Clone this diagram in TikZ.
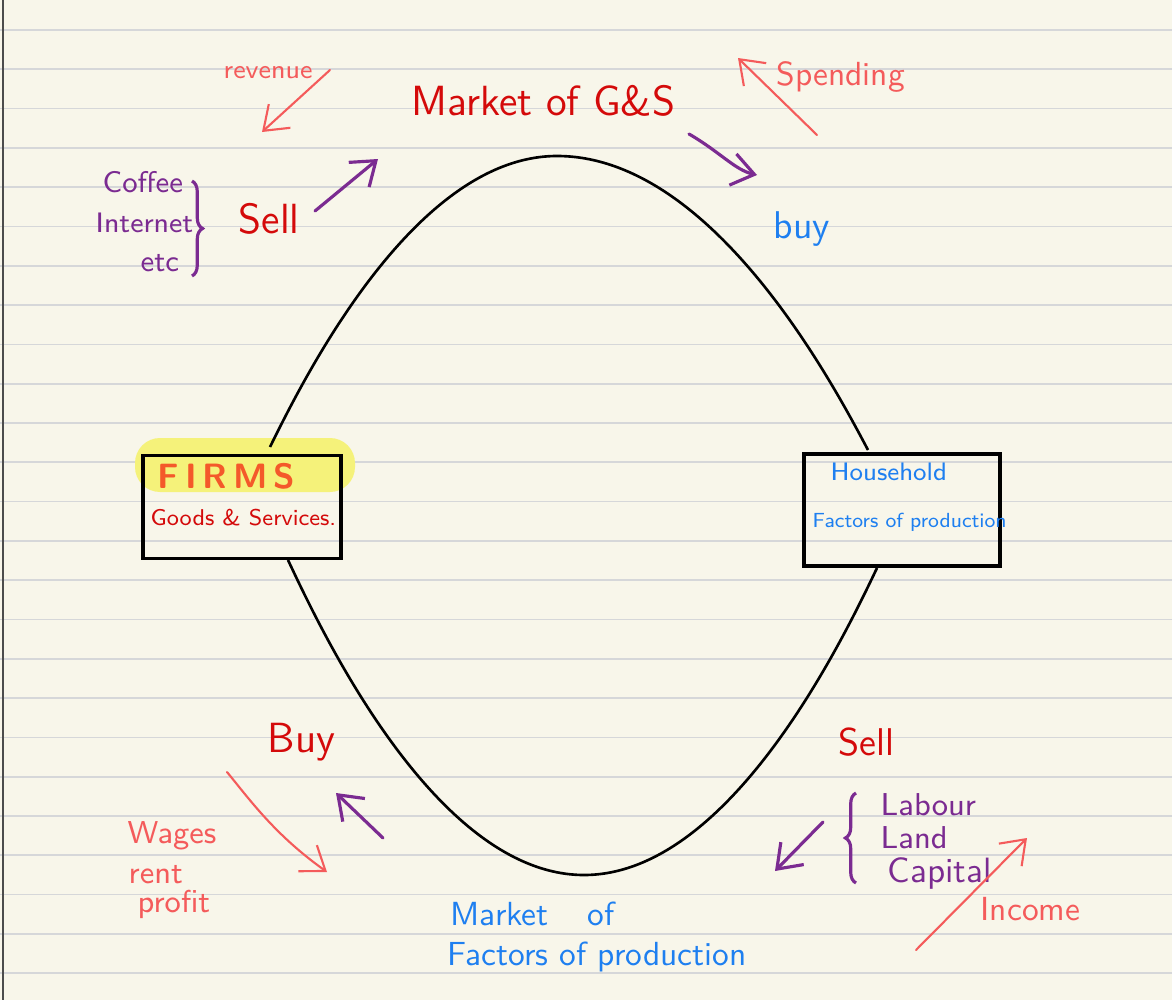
\documentclass[tikz,border=0pt]{standalone}
\usetikzlibrary{arrows.meta,decorations.pathreplacing}

\definecolor{paper}{HTML}{F8F6EA}
\definecolor{ruleline}{HTML}{D6D7D9}
\definecolor{inkred}{HTML}{D40A0A}
\definecolor{salmon}{HTML}{F45B5B}
\definecolor{inkpurple}{HTML}{7B2B91}
\definecolor{inkblue}{HTML}{1E7FF0}
\definecolor{firmsorange}{HTML}{F4592A}
\definecolor{hilite}{HTML}{F5F27A}

\tikzset{
  txt/.style={inner sep=0pt, anchor=base west, font=\sffamily\fontsize{#1}{#1}\selectfont},
  box/.style={draw=black, line width=0.9pt, inner sep=0pt},
  arr/.style={-{Straight Barb[length=2.2mm,width=3.2mm]}, line cap=round},
  redpen/.style={salmon, line width=0.6pt},
  purplepen/.style={inkpurple, line width=0.9pt},
  curve/.style={black, line width=0.75pt}
}

\begin{document}
\begin{tikzpicture}[x=0.01cm, y=-0.01cm]
    % 纸
    \useasboundingbox (0,0) rectangle (1172,1000);
    \fill[paper] (0,0) rectangle (1172,1000);
    \foreach \k in {0,...,24}
        \draw[ruleline, line width=0.5pt] (0,{30+39.3*\k}) -- (1172,{30+39.3*\k});
    \draw[black!70, line width=0.5pt] (3,0) -- (3,1000);

    % 荧光笔
    \fill[hilite, rounded corners=2.5mm] (135,438) rectangle (355,492);

    % 两个方框
    \node[box, minimum width=1.98cm, minimum height=1.03cm] (firms) at (242,507) {};
    \node[box, minimum width=1.96cm, minimum height=1.12cm] (household) at (902,510) {};

    % 环线
    \coordinate (firmsTop) at (270,447);
    \coordinate (gsTop) at (557,156);
    \coordinate (houseTop) at (868,450);
    \coordinate (firmsBot) at (288,560);
    \coordinate (fpBot) at (584,875);
    \coordinate (houseBot) at (877,568);
    \draw[curve] (firmsTop) parabola bend (gsTop) (houseTop);
    \draw[curve] (firmsBot) parabola bend (fpBot) (houseBot);

    % 方框里的字
    \node[txt=10, firmsorange, font=\sffamily\bfseries\fontsize{10}{10}\selectfont] (firmsName) at (157,488) {F\,I\,R\,M\,S};
    \node[txt=6.5, inkred] (firmsGoods) at (150,525) {Goods \& Services.};
    \node[txt=7.2, inkblue] (houseName) at (830,480) {Household};
    \node[txt=5.8, inkblue] (houseFactors) at (812,527) {Factors of production};

    % 上方：商品市场
    \node[txt=12, inkred] (mktGS) at (411,116) {Market of G\&S};
    \node[txt=7.5, salmon] (revenue) at (223,78) {revenue};
    \node[txt=9.5, salmon] (spending) at (776,85) {Spending};
    \node[txt=12, inkred] (sellTop) at (238,233) {Sell};
    \node[txt=11, inkblue] (buyTop) at (773,238) {buy};
    \node[txt=8.5, inkpurple] (coffee) at (102,192) {Coffee};
    \node[txt=8, inkpurple] (internet) at (95,232) {Internet};
    \node[txt=8.5, inkpurple] (etc) at (140,271) {etc};
    \draw[purplepen, decorate, decoration={brace, amplitude=3pt}] (192,181) -- (192,276);

    \draw[redpen, arr] (330,70) -- (262,132);
    \draw[redpen, arr] (817,135) -- (738,58);
    \draw[purplepen, arr] (315,211) -- (378,159);
    \draw[purplepen, arr] (689,134) .. controls (720,152) and (735,170) .. (757,175);

    % 下方：要素市场
    \node[txt=9.5, inkblue] (mktFP) at (450,925) {Market\hspace{11pt}of};
    \node[txt=9.5, inkblue] (mktFPsub) at (447,965) {Factors of production};
    \node[txt=12, inkred] (buyBot) at (267,752) {Buy};
    \node[txt=9, salmon] (wages) at (127,843) {Wages};
    \node[txt=9, salmon] (rent) at (128,883) {rent};
    \node[txt=9, salmon] (profit) at (137,912) {profit};
    \node[txt=11, inkred] (sellBot) at (838,755) {Sell};
    \node[txt=9, inkpurple] (labour) at (880,815) {Labour};
    \node[txt=9, inkpurple] (land) at (880,848) {Land};
    \node[txt=10, inkpurple] (capital) at (887,882) {Capital};
    \node[txt=9.5, salmon] (income) at (980,920) {Income};
    \draw[purplepen, decorate, decoration={brace, amplitude=3pt}] (856,883) -- (856,793);

    \draw[redpen, arr] (227,772) .. controls (250,800) and (275,835) .. (327,872);
    \draw[purplepen, arr] (383,838) -- (336,793);
    \draw[purplepen, arr] (823,822) -- (775,871);
    \draw[redpen, arr] (916,950) -- (1027,838);
\end{tikzpicture}
\end{document}
